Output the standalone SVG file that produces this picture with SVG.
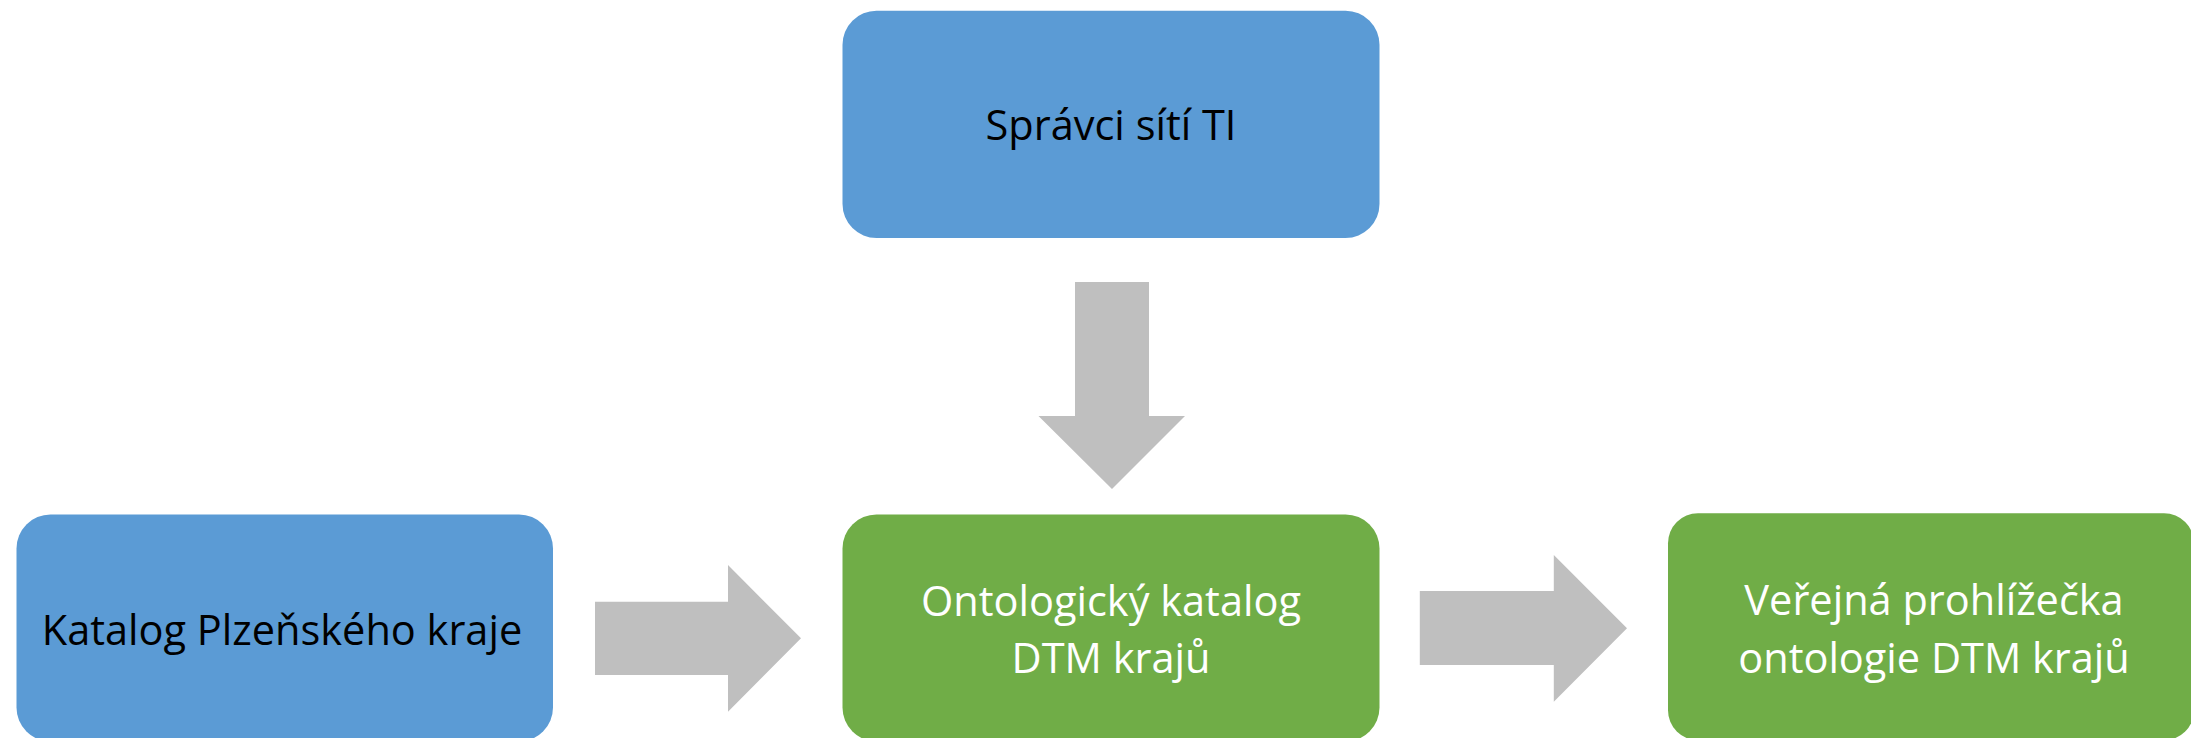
<svg xmlns="http://www.w3.org/2000/svg" width="2191" height="738" viewBox="0 0 2191 738">
<style>
.blue{fill:#5B9BD5}
.green{fill:#70AD47}
.arrow{fill:#BFBFBF}
text{font-family:"Open Sans","Noto Sans","DejaVu Sans",sans-serif;text-anchor:middle;font-size:41.5px}
.dark{fill:#000000}
.light{fill:#FFFFFF}
</style>
<rect width="2191" height="738" fill="#FFFFFF"/>
<g id="connectors">
<polygon class="arrow" points="1075,282 1149,282 1149,416 1185,416 1112,489 1038.5,416 1075,416"/>
<polygon class="arrow" points="595,601.7 728,601.7 728,565 801,638.3 728,711.7 728,675 595,675"/>
<polygon class="arrow" points="1419.8,591 1553.8,591 1553.8,555 1627,628.3 1553.8,701.7 1553.8,665 1419.8,665"/>
</g>
<g id="node-spravci">
<rect class="blue" x="842.5" y="10.7" width="537" height="227.3" rx="34" ry="34"/>
<text class="dark" x="1111" y="140">Správci sítí TI</text>
</g>
<g id="node-katalog-plzen">
<rect class="blue" x="16.5" y="514.5" width="536.5" height="227" rx="34" ry="34"/>
<text class="dark" x="282" y="645">Katalog Plzeňského kraje</text>
</g>
<g id="node-ontologicky">
<rect class="green" x="842.5" y="514.5" width="537" height="227" rx="34" ry="34"/>
<text class="light" x="1111" y="616">Ontologický katalog</text>
<text class="light" x="1111" y="673">DTM krajů</text>
</g>
<g id="node-verejna">
<rect class="green" x="1668" y="513.3" width="526" height="227" rx="30" ry="30"/>
<text class="light" x="1934" y="615">Veřejná prohlížečka</text>
<text class="light" x="1934" y="673">ontologie DTM krajů</text>
</g>
</svg>
